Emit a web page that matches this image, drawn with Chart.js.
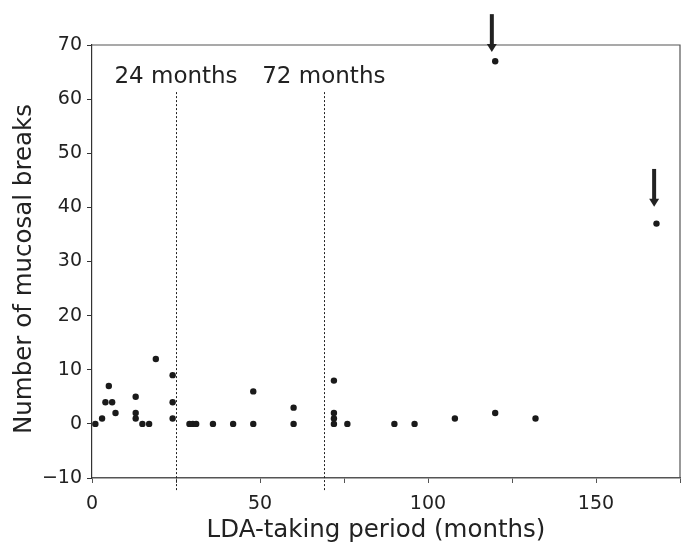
<!DOCTYPE html>
<html>
<head>
<meta charset="utf-8">
<script src="https://cdn.jsdelivr.net/npm/chart.js@4/dist/chart.umd.min.js"></script>
<style>
  html, body { margin: 0; padding: 0; background: #fff; }
  #wrap { width: 684px; height: 547px; }
</style>
</head>
<body>
<div id="wrap"><canvas id="chart_lda"></canvas></div>
<script>
// LDA-taking period (months) and number of mucosal breaks
const months = [1, 3, 4, 5, 6, 7, 13, 13, 13, 15, 17, 19, 24, 24, 24, 29, 30, 31, 36, 42, 48, 48, 60, 60, 72, 72, 72, 72, 76, 90, 96, 108, 120, 132, 120, 168];
const breaks = [0, 1, 4, 7, 4, 2, 5, 2, 1, 0, 0, 12, 9, 4, 1, 0, 0, 0, 0, 0, 6, 0, 3, 0, 8, 2, 1, 0, 0, 0, 0, 1, 2, 1, 67, 37];

// cut-off lines and their labels
const cutoffs = [25, 69];
const cutoffLabels = ['24 months', '72 months'];

// arrows pointing at the outliers: [x, from y, to y]
const arrowX = [119, 167.3];
const arrowFrom = [75.7, 47.1];
const arrowTo = [68.7, 40.1];

const xTitle = 'LDA-taking period (months)';
const yTitle = 'Number of mucosal breaks';

const font = 'DejaVu Sans';

const extras = {
    id: 'extras',
    afterDraw(chart) {
        const { ctx, chartArea, scales: { x, y } } = chart;
        ctx.save();

        // top and right frame
        ctx.strokeStyle = '#555';
        ctx.lineWidth = 1.2;
        ctx.beginPath();
        ctx.moveTo(chartArea.left, chartArea.top);
        ctx.lineTo(chartArea.right, chartArea.top);
        ctx.lineTo(chartArea.right, chartArea.bottom);
        ctx.stroke();

        // dotted cut-off lines
        ctx.strokeStyle = '#222';
        ctx.lineWidth = 1;
        ctx.setLineDash([2, 2]);
        cutoffs.forEach(c => {
            const px = Math.round(x.getPixelForValue(c)) + 0.5;
            ctx.beginPath();
            ctx.moveTo(px, y.getPixelForValue(61.3));
            ctx.lineTo(px, y.getPixelForValue(-12.6));
            ctx.stroke();
        });
        ctx.setLineDash([]);

        ctx.fillStyle = '#222';
        ctx.font = '23px "' + font + '"';
        ctx.textAlign = 'center';
        ctx.textBaseline = 'middle';
        cutoffs.forEach((c, i) => {
            ctx.fillText(cutoffLabels[i], x.getPixelForValue(c), y.getPixelForValue(64));
        });

        // axis titles
        ctx.font = '24.5px "' + font + '"';
        ctx.fillText(xTitle, 376, 531);
        ctx.save();
        ctx.translate(25, 269);
        ctx.rotate(-Math.PI / 2);
        ctx.fillText(yTitle, 0, 0);
        ctx.restore();

        // arrows
        ctx.strokeStyle = '#222';
        ctx.lineWidth = 4;
        arrowX.forEach((ax, i) => {
            const px = x.getPixelForValue(ax);
            const y0 = y.getPixelForValue(arrowFrom[i]);
            const y1 = y.getPixelForValue(arrowTo[i]);
            ctx.beginPath();
            ctx.moveTo(px, y0);
            ctx.lineTo(px, y1 - 7);
            ctx.stroke();
            ctx.beginPath();
            ctx.moveTo(px - 5, y1 - 8);
            ctx.lineTo(px + 5, y1 - 8);
            ctx.lineTo(px, y1);
            ctx.closePath();
            ctx.fill();
        });
        ctx.restore();
    }
};

new Chart(document.getElementById('chart_lda'), {
    type: 'scatter',
    data: {
        datasets: [{
            data: months.map((m, i) => ({ x: m, y: breaks[i] })),
            backgroundColor: '#1a1a1a',
            borderColor: '#1a1a1a',
            pointRadius: 3.2,
            borderWidth: 0
        }]
    },
    options: {
        responsive: true,
        maintainAspectRatio: false,
        animation: false,
        layout: { padding: { top: 45, right: 1, left: 0, bottom: 0 } },
        plugins: {
            legend: { display: false },
            tooltip: { enabled: false }
        },
        scales: {
            x: {
                type: 'linear',
                min: 0,
                max: 175,
                afterFit(scale) {
                    scale.height = 69;
                    scale.paddingLeft = 0;
                    scale.paddingRight = 0;
                },
                ticks: {
                    stepSize: 25,
                    padding: 10,
                    color: '#222',
                    font: { family: font, size: 19 },
                    maxRotation: 0,
                    callback: v => (v % 50 === 0 ? v : '')
                },
                grid: { drawOnChartArea: false, tickLength: 5, color: '#555' },
                border: { color: '#555', width: 1.5 }
            },
            y: {
                min: -10,
                max: 70,
                afterFit(scale) { scale.width = 92; },
                ticks: {
                    stepSize: 10,
                    padding: 5,
                    color: '#222',
                    font: { family: font, size: 19 },
                    callback: v => String(v).replace('-', '\u2212')
                },
                grid: { drawOnChartArea: false, tickLength: 5, color: '#333' },
                border: { color: '#333', width: 1.2 }
            }
        }
    },
    plugins: [extras]
});
</script>
</body>
</html>
